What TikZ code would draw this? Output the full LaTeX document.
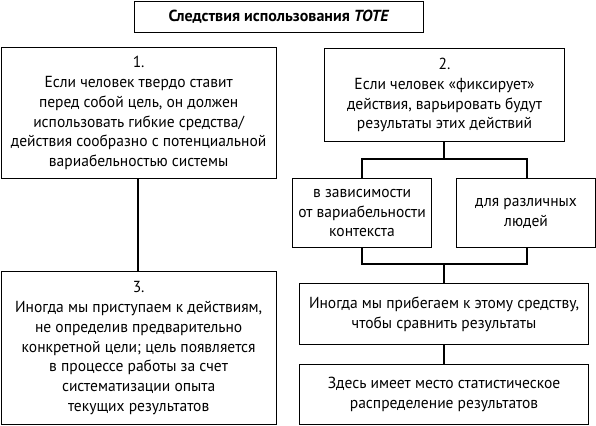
\documentclass[tikz,border=0pt]{standalone}
\usepackage{fontspec}
\setmainfont[FakeStretch=0.97]{PT Sans}
\newfontfamily\titlefont{PT Sans}
\begin{document}
\begin{tikzpicture}[x=1pt,y=-1pt,
  box/.style={draw=black, line width=1.1pt, anchor=north west, align=center, inner sep=0pt,
    font=\fontsize{16}{19.8}\selectfont},
  conn/.style={draw=black, line width=1.9pt}]
\useasboundingbox (0,0) rectangle (596,425);
\node[box, minimum width=289pt, minimum height=31pt, font=\titlefont\bfseries\fontsize{16}{18}\selectfont] (t) at (134,1) {Следствия использования \textit{TOTE}};
\node[box, minimum width=275pt, minimum height=131pt] (b1) at (0.6,47) {1.\\Если человек твердо ставит\\перед собой цель, он должен\\использовать гибкие средства/\\действия сообразно с потенциальной\\вариабельностью системы};
\node[box, minimum width=240pt, minimum height=93pt] (b2) at (324,48) {2.\\Если человек «фиксирует»\\действия, варьировать будут\\результаты этих действий};
\node[box, minimum width=139pt, minimum height=69pt] (ba) at (292,178) {в зависимости\\от вариабельности\\контекста};
\node[box, minimum width=139pt, minimum height=69pt] (bb) at (456,178) {для различных\\людей};
\node[box, minimum width=275pt, minimum height=153pt] (b3) at (0.6,271) {3.\\Иногда мы приступаем к действиям,\\не определив предварительно\\конкретной цели; цель появляется\\в процессе работы за счет\\систематизации опыта\\текущих результатов};
\node[box, minimum width=289pt, minimum height=61pt] (bc) at (299,283) {Иногда мы прибегаем к этому средству,\\чтобы сравнить результаты};
\node[box, minimum width=289pt, minimum height=60pt] (bd) at (299,364) {Здесь имеет место статистическое\\распределение результатов};
\coordinate (j1) at (444,159);
\coordinate (j2) at (444,264);
\coordinate (ta) at (362,178);
\coordinate (tb) at (527,178);
\draw[conn] (b1.south -| 138,0) -- (b3.north -| 138,0);
\draw[conn] (b2.south -| j1) -- (j1);
\draw[conn] (ta) |- (j1) -| (tb);
\draw[conn] (ba.south -| ta) |- (j2) -| (bb.south -| tb);
\draw[conn] (j2) -- (bc.north -| j2);
\draw[conn] (bc.south -| j2) -- (bd.north -| j2);
\end{tikzpicture}
\end{document}
